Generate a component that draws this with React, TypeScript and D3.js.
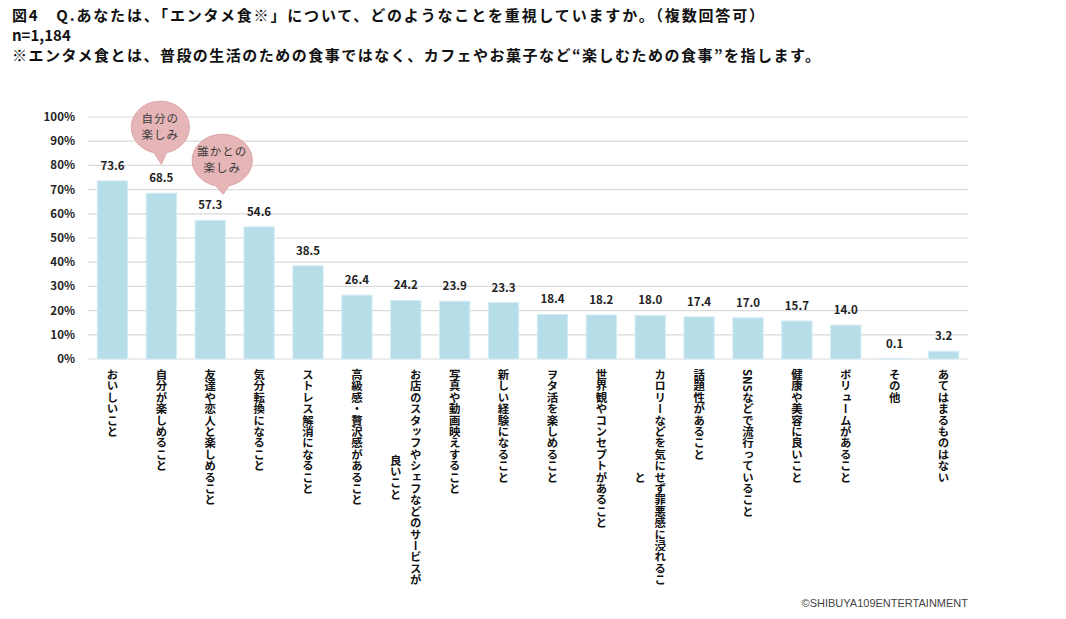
import React from "react";
import * as d3 from "d3";

const categories: string[] = [
  "おいしいこと",
  "自分が楽しめること",
  "友達や恋人と楽しめること",
  "気分転換になること",
  "ストレス解消になること",
  "高級感・贅沢感があること",
  "お店のスタッフやシェフなどのサービスが\n良いこと",
  "写真や動画映えすること",
  "新しい経験になること",
  "ヲタ活を楽しめること",
  "世界観やコンセプトがあること",
  "カロリーなどを気にせず罪悪感に浸れるこ\nと",
  "話題性があること",
  "SNSなどで流行っていること",
  "健康や美容に良いこと",
  "ボリュームがあること",
  "その他",
  "あてはまるものはない",
];

const values: number[] = [
  73.6, 68.5, 57.3, 54.6, 38.5, 26.4, 24.2, 23.9, 23.3, 18.4, 18.2, 18.0, 17.4,
  17.0, 15.7, 14.0, 0.1, 3.2,
];

const yTicks: number[] = [0, 10, 20, 30, 40, 50, 60, 70, 80, 90, 100];

const titleLines: string[] = [
  "図4　Q.あなたは、「エンタメ食※」について、どのようなことを重視していますか。（複数回答可）",
  "n=1,184",
  "※エンタメ食とは、普段の生活のための食事ではなく、カフェやお菓子など“楽しむための食事”を指します。",
];

const calloutTexts: string[][] = [
  ["自分の", "楽しみ"],
  ["誰かとの", "楽しみ"],
];
const calloutCategories: number[] = [1, 2];

const copyright = "©SHIBUYA109ENTERTAINMENT";

const FONT = "'Noto Sans CJK JP', 'Noto Sans', sans-serif";

export default function App() {
  const W = 1066;
  const H = 619;
  const left = 88;
  const right = 968;
  const top = 117;
  const bottom = 359;

  const x = d3
    .scaleBand<number>()
    .domain(d3.range(categories.length))
    .range([left, right])
    .paddingInner(0.38)
    .paddingOuter(0.19);
  const y = d3.scaleLinear().domain([0, 100]).range([bottom, top]);
  const bw = x.bandwidth();

  const labelFs = 11.4;
  const labelTop = 369;
  const lineGap = 20;

  const calloutGeom = [
    { dx: 0, tipAbove: 29, rx: 29, ry: 26, gap: 11 },
    { dx: 13, tipAbove: 26, rx: 30, ry: 26, gap: 8 },
  ];

  return (
    <svg
      width={W}
      height={H}
      style={{ position: "absolute", left: 0, top: 0, background: "#fff" }}
      fontFamily={FONT}
    >
      {/* title */}
      <text x={12} y={21} fontSize={15} fontWeight={700} fill="#111" textLength={752} lengthAdjust="spacing">
        {titleLines[0]}
      </text>
      <text x={12} y={41} fontSize={15} fontWeight={700} fill="#111">
        {titleLines[1]}
      </text>
      <text x={12} y={61} fontSize={15} fontWeight={700} fill="#111" textLength={808} lengthAdjust="spacing">
        {titleLines[2]}
      </text>

      {/* gridlines */}
      {yTicks.map((t) => (
        <g key={t}>
          <line x1={left} x2={right} y1={y(t)} y2={y(t)} stroke="#d9d9d9" strokeWidth={1.2} />
          <text
            x={75}
            y={y(t)}
            dy="0.35em"
            textAnchor="end"
            fontSize={11.5}
            fontWeight={700}
            fill="#222"
          >
            {t}%
          </text>
        </g>
      ))}

      {/* bars */}
      {values.map((v, i) => (
        <g key={i}>
          <rect
            x={x(i)!}
            y={y(v)}
            width={bw}
            height={Math.max(0, bottom - y(v))}
            fill="#b7dde8"
            stroke="#d3edf4"
            strokeWidth={1}
          />
          <text
            x={x(i)! + bw / 2}
            y={y(v) - 11}
            textAnchor="middle"
            fontSize={11.5}
            fontWeight={700}
            fill="#222"
          >
            {v.toFixed(1)}
          </text>
        </g>
      ))}

      {/* category labels (vertical) */}
      {categories.map((c, i) => {
        const lines = c.split("\n");
        const cx = x(i)! + bw / 2;
        const n = lines.length;
        const firstLen = lines[0].length * labelFs;
        return (
          <g key={i}>
            {lines.map((ln, j) => {
              const lx = cx + ((n - 1) / 2) * lineGap - j * lineGap;
              return (
                <text
                  key={j}
                  x={lx}
                  y={j === 0 ? labelTop : labelTop + firstLen / 2}
                  style={{ writingMode: "vertical-rl" } as any}
                  fontSize={labelFs}
                  fontWeight={700}
                  fill="#111"
                  textAnchor={j === 0 ? "start" : "middle"}
                >
                  {ln}
                </text>
              );
            })}
          </g>
        );
      })}

      {/* callouts */}
      {calloutCategories.map((ci, k) => {
        const g = calloutGeom[k];
        const tipX = x(ci)! + bw / 2 + g.dx;
        const tipY = y(values[ci]) - g.tipAbove;
        const cx = tipX - 1;
        const cy = tipY - g.gap - g.ry;
        const path = d3.path();
        const a1 = Math.PI / 2 - 0.22;
        const a2 = Math.PI / 2 + 0.22;
        path.moveTo(cx + g.rx * Math.cos(a1), cy + g.ry * Math.sin(a1));
        path.lineTo(tipX, tipY);
        path.lineTo(cx + g.rx * Math.cos(a2), cy + g.ry * Math.sin(a2));
        const N = 60;
        for (let s = 1; s <= N; s++) {
          const a = a2 + ((2 * Math.PI - 0.44) * s) / N;
          path.lineTo(cx + g.rx * Math.cos(a), cy + g.ry * Math.sin(a));
        }
        path.closePath();
        const lines = calloutTexts[k];
        return (
          <g key={k}>
            <path d={path.toString()} fill="#e6b5b8" stroke="#dba4a8" strokeWidth={1} />
            {lines.map((ln, j) => (
              <text
                key={j}
                x={cx}
                y={cy + (j - (lines.length - 1) / 2) * 16}
                dy="0.35em"
                textAnchor="middle"
                fontSize={11.5}
                fill="#3a3a3a"
                letterSpacing={1}
              >
                {ln}
              </text>
            ))}
          </g>
        );
      })}

      {/* copyright */}
      <text x={968} y={607} textAnchor="end" fontSize={11} fill="#444" fontFamily="'Liberation Sans', Arial, sans-serif">
        {copyright}
      </text>
    </svg>
  );
}
